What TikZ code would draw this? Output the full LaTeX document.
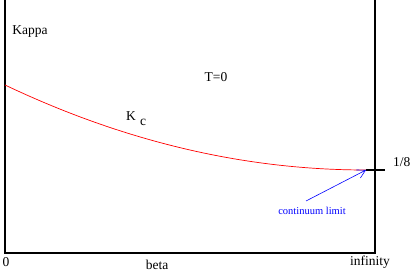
\documentclass[tikz,border=0pt]{standalone}
\usepackage{fontspec}
\setmainfont{Liberation Serif}
\usetikzlibrary{arrows.meta}
\begin{document}
\begin{tikzpicture}[x=1pt,y=-1pt,
  axis/.style={line width=1.8pt,black},
  lbl/.style={inner sep=0pt,font=\fontsize{13.5}{15}\selectfont},
  note/.style={inner sep=0pt,text=blue,font=\fontsize{10.5}{12}\selectfont}]
\useasboundingbox (0,0) rectangle (415,272);
\coordinate (tl) at (5,0);
\coordinate (bl) at (5,253);
\coordinate (br) at (375,253);
\coordinate (tr) at (375,0);
\draw[axis] (tl) -- (bl) -- (br) -- (tr);
\coordinate (t1) at (366,170);
\coordinate (t2) at (385,170);
\draw[line width=1.2pt] (t1) -- (t2);
\coordinate (c0) at (5,85);
\draw[red, line width=0.7pt] (c0) .. controls (125,142) and (245,170) .. (t1);
\node[lbl] (kappa) at (30,32) {Kappa};
\node[lbl] (t0) at (216,77) {T=0};
\node[lbl,anchor=base west] (kc) at (126,121) {K};
\node[lbl,anchor=base west] (kcs) at (140,126) {c};
\node[lbl,anchor=west] (eighth) at (393,162) {1/8};
\node[lbl] (zero) at (6,262) {0};
\node[lbl] (beta) at (157,265) {beta};
\node[lbl] (inf) at (370,262) {infinity};
\node[note] (cl) at (312,211) {continuum limit};
\coordinate (as) at (306,201);
\draw[blue, line width=0.6pt, -{Straight Barb[length=8pt,width=9pt]}] (as) -- (t1);
\end{tikzpicture}
\end{document}
